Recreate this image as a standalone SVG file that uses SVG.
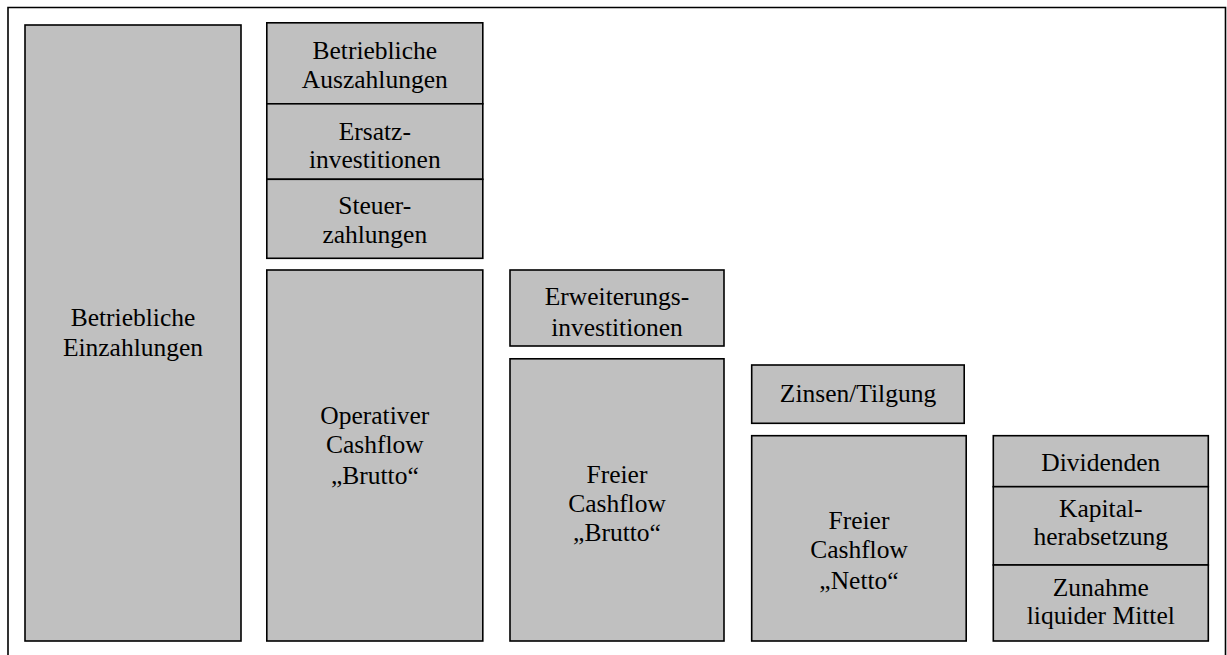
<svg xmlns="http://www.w3.org/2000/svg" width="1227" height="655" viewBox="0 0 1227 655">
<style>
.box{fill:#c0c0c0;stroke:#000;stroke-width:1.6}
.frame{fill:none;stroke:#000;stroke-width:1.6}
.lbl{font-family:'Liberation Serif','Times New Roman',Times,serif;font-size:25.5px;fill:#000;text-anchor:middle}
</style>
<rect width="1227" height="655" fill="#fff"/>
<path class="frame" d="M8,660 V7.5 H1225.5 V660"/>
<g class="lbl" font-family="Liberation Serif, Times New Roman, serif">
<g id="betriebliche-einzahlungen">
<rect class="box" x="25" y="25" width="216" height="616"/>
<text x="133" y="326">Betriebliche</text>
<text x="133" y="356">Einzahlungen</text>
</g>
<g id="betriebliche-auszahlungen">
<rect class="box" x="266.8" y="22.8" width="216" height="81"/>
<text x="374.8" y="58.5">Betriebliche</text>
<text x="374.8" y="87.5">Auszahlungen</text>
</g>
<g id="ersatzinvestitionen">
<rect class="box" x="266.8" y="103.8" width="216" height="75.5"/>
<text x="374.8" y="139.5">Ersatz-</text>
<text x="374.8" y="167.8">investitionen</text>
</g>
<g id="steuerzahlungen">
<rect class="box" x="266.8" y="179.3" width="216" height="79"/>
<text x="374.8" y="213.5">Steuer-</text>
<text x="374.8" y="243">zahlungen</text>
</g>
<g id="operativer-cashflow">
<rect class="box" x="266.8" y="270" width="216" height="371"/>
<text x="374.8" y="423.5">Operativer</text>
<text x="374.8" y="453">Cashflow</text>
<text x="374.8" y="483.5">„Brutto“</text>
</g>
<g id="erweiterungsinvestitionen">
<rect class="box" x="510" y="270" width="214" height="76"/>
<text x="617" y="305">Erweiterungs-</text>
<text x="617" y="335.5">investitionen</text>
</g>
<g id="freier-cashflow-brutto">
<rect class="box" x="510" y="358.8" width="214" height="282.2"/>
<text x="617" y="482.7">Freier</text>
<text x="617" y="511.7">Cashflow</text>
<text x="617" y="540.7">„Brutto“</text>
</g>
<g id="zinsen-tilgung">
<rect class="box" x="751.7" y="365" width="212.5" height="58.3"/>
<text x="858" y="401.7">Zinsen/Tilgung</text>
</g>
<g id="freier-cashflow-netto">
<rect class="box" x="751.7" y="435.7" width="214.5" height="205.3"/>
<text x="859" y="529.3">Freier</text>
<text x="859" y="558.3">Cashflow</text>
<text x="859" y="589">„Netto“</text>
</g>
<g id="dividenden">
<rect class="box" x="993.3" y="435.7" width="215" height="51"/>
<text x="1100.8" y="470.7">Dividenden</text>
</g>
<g id="kapitalherabsetzung">
<rect class="box" x="993.3" y="486.7" width="215" height="78.3"/>
<text x="1100.8" y="516.7">Kapital-</text>
<text x="1100.8" y="545">herabsetzung</text>
</g>
<g id="zunahme-liquider-mittel">
<rect class="box" x="993.3" y="565" width="215" height="76"/>
<text x="1100.8" y="595.7">Zunahme</text>
<text x="1100.8" y="624">liquider Mittel</text>
</g>
</g>
<g id="connectors"/>
</svg>
